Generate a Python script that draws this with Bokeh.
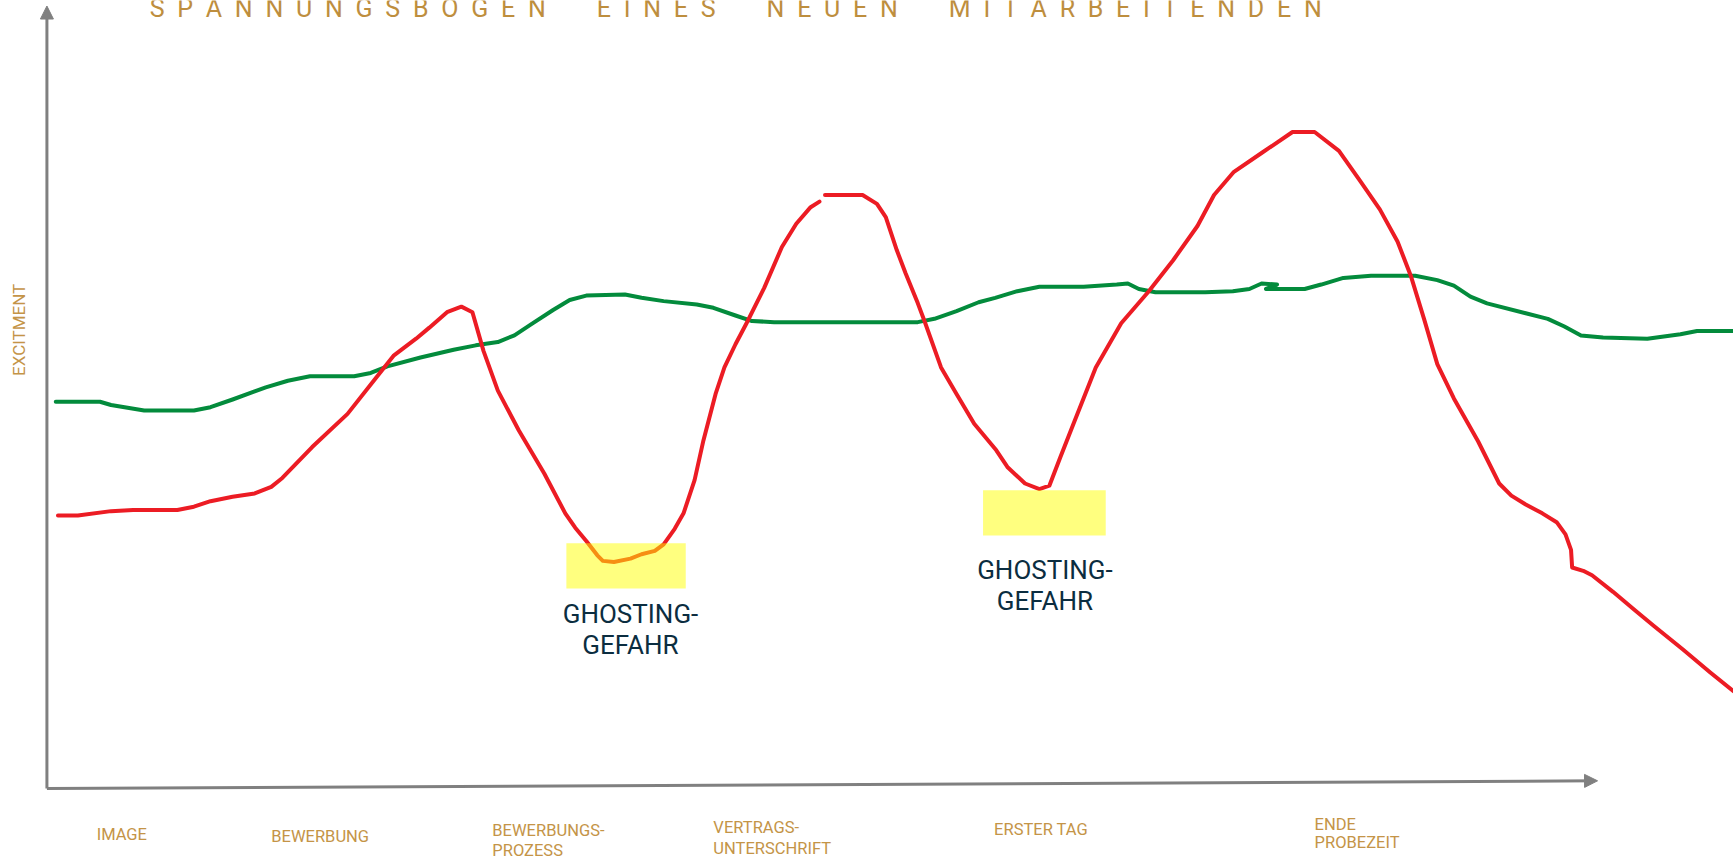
import math
from bokeh.plotting import figure
from bokeh.models import Range1d, Arrow, NormalHead
from bokeh.core.properties import value
from bokeh.embed import file_html
from bokeh.resources import INLINE

# ---------------- data ----------------
TITLE = "SPANNUNGSBOGEN EINES NEUEN MITARBEITENDEN"
Y_LABEL = "EXCITMENT"

stages = ["IMAGE", "BEWERBUNG", "BEWERBUNGS-\nPROZESS", "VERTRAGS-\nUNTERSCHRIFT",
          "ERSTER TAG", "ENDE\nPROBEZEIT"]
stage_x = [87, 245, 445, 645, 899, 1189]
stage_y = [24, 23, 19, 21, 29, 25.5]

# candidate excitement (green)
green_x = [50, 90, 100, 130, 175, 190, 210, 240, 260, 280, 320, 335, 350, 380, 410,
           430, 450, 465, 480, 500, 515, 530, 565, 580, 600, 630, 645, 665, 680, 700,
           830, 845, 865, 885, 900, 920, 940, 980, 1010, 1020, 1030, 1045, 1090, 1115,
           1130, 1141, 1155, 1145, 1180, 1195, 1215, 1240, 1280, 1300, 1315, 1330,
           1345, 1380, 1400, 1415, 1430, 1450, 1490, 1505, 1520, 1535, 1568]
green_y = [416, 416, 413, 408, 408, 411, 418, 429, 435, 439, 439, 442, 448, 456, 463,
           467, 470, 476, 486, 499, 508, 512, 513, 510, 507, 504, 501, 494, 489, 488,
           488, 491, 498, 506, 510, 516, 520, 520, 522, 523, 518, 515, 515, 516,
           518, 523, 522, 518, 518, 522, 528, 530, 530, 526, 521, 511,
           505, 496, 491, 484, 476, 474, 473, 475, 477, 480, 480]

# company excitement (red); nan = short gap in the stroke
red_x = [52, 70, 100, 120, 160, 175, 190, 210, 230, 245, 255, 282, 314, 340, 356,
         376, 388, 404, 417, 427, 437, 450, 469, 492, 511, 520, 530, 540, 545, 555,
         570, 580, 592, 600, 610, 618, 628, 636, 647, 655, 665, 675, 691, 707, 720,
         733, 741, float("nan"), 746, 780, 793, 801, 811, 819, 830, 836, 851, 865,
         881, 901, 911, 927, 940, 949, 959, 972, 991, 1014, 1039, 1061, 1083, 1098,
         1116, 1141, 1169, 1189, 1211, 1230, 1248, 1264, 1276, 1288, 1300, 1315, 1337,
         1356, 1367, 1380, 1395, 1408, 1416, 1421, 1422, 1432, 1440, 1459, 1478, 1496,
         1522, 1547, 1568]
red_y = [313, 313, 317, 318, 318, 321, 326, 330, 333, 339, 347, 375, 405, 438, 458,
         473, 483, 497, 502, 497, 462, 426, 390, 351, 315, 302, 290, 277, 272, 271,
         274, 278, 281, 287, 301, 315, 345, 381, 423, 447, 468, 487, 519, 556, 577,
         592, 597, float("nan"), 603, 603, 595, 583, 553, 532, 505, 489, 447, 423,
         396, 372, 357, 342, 337, 340, 366, 399, 447, 487, 516, 544, 575, 603,
         624, 641, 660, 660, 643, 616, 590, 561, 530, 491, 450, 419, 380,
         342, 331, 323, 315, 307, 296, 282, 266, 263, 259, 244, 228, 213,
         192, 171, 154]

ghost_text = ["GHOSTING-\nGEFAHR", "GHOSTING-\nGEFAHR"]
ghost_x = [570, 945]
ghost_y = [210, 249.5]
ghost_left = [512, 889]
ghost_right = [620, 1000]
ghost_bottom = [247, 295]
ghost_top = [288, 336]

# ---------------- styles ----------------
GOLD = "#C49447"
TITLE_GOLD = "#BE8E3E"
NAVY = "#0B2D40"
RED = "#EC1C24"
GREEN = "#038B3C"
AXIS = "#808080"
FONT = "Roboto"

p = figure(width=1733, height=861,
           x_range=Range1d(0, 1568), y_range=Range1d(0, 779),
           output_backend="svg", toolbar_location=None, min_border=0)
p.axis.visible = False
p.grid.visible = False
p.outline_line_color = None
p.background_fill_color = "white"

# axes as arrows
head_kw = dict(size=13, fill_color=AXIS, line_color=AXIS)
p.add_layout(Arrow(x_start=42, y_start=66, x_end=42, y_end=774,
                   line_color=AXIS, line_width=3, end=NormalHead(**head_kw)))
p.add_layout(Arrow(x_start=42, y_start=66, x_end=1445, y_end=73,
                   line_color=AXIS, line_width=3, end=NormalHead(**head_kw)))

# curves
p.line(green_x, green_y, line_color=GREEN, line_width=4,
       line_join="round", line_cap="round")
p.line(red_x, red_y, line_color=RED, line_width=4,
       line_join="round", line_cap="round")

# ghosting highlight boxes (translucent, over the line)
p.quad(left=ghost_left, right=ghost_right, bottom=ghost_bottom, top=ghost_top,
       fill_color="#FFFF00", fill_alpha=0.5, line_color=None)

p.text(x=ghost_x, y=ghost_y, text=ghost_text, text_align="center",
       text_baseline="middle", text_color=NAVY, text_font=value(FONT),
       text_font_size="26px", text_line_height=1.05)

# stage labels
for lbl, sx, sy in zip(stages, stage_x, stage_y):
    lh = 0.93 if lbl.startswith("ENDE") else 1.09
    p.text(x=[sx], y=[sy], text=[lbl], text_align="left", text_baseline="middle",
           text_color=GOLD, text_font=value(FONT), text_font_size="16.5px",
           text_line_height=lh)

# y label
p.text(x=[17], y=[481], text=[Y_LABEL], angle=math.pi / 2, text_align="center",
       text_baseline="middle", text_color=GOLD, text_font=value(FONT),
       text_font_size="17px")

# title with wide letter spacing (top of it runs off the page, as in the source)
spaced_title = ("\u2002" * 4).join("\u2002".join(w) for w in TITLE.split(" "))
p.text(x=[135], y=[772], text=[spaced_title], text_align="left",
       text_baseline="alphabetic", text_color=TITLE_GOLD, text_font=value(FONT),
       text_font_size="25px")

open("out.html", "w").write(file_html(p, INLINE))
